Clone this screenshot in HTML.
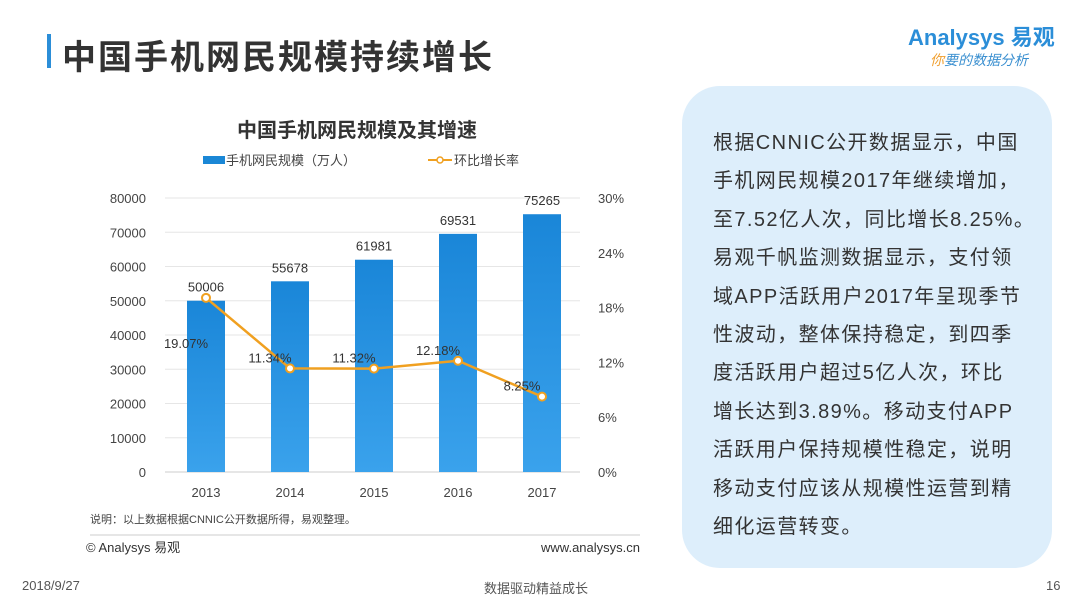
<!DOCTYPE html>
<html><head><meta charset="utf-8"><style>
body{margin:0;width:1080px;height:608px;background:#fff;position:relative;overflow:hidden;font-family:"Liberation Sans","Noto Sans CJK SC",sans-serif;}
.a{position:absolute;white-space:nowrap}
</style></head><body>
<div class="a" style="left:47px;top:34px;width:4px;height:34px;background:#2b8ed8"></div>
<div class="a" style="left:62px;top:30px;font-size:34px;letter-spacing:2px;font-weight:bold;color:#333">中国手机网民规模持续增长</div>
<div class="a" style="left:908px;top:20px;font-size:22px;color:#2b8ed8;font-weight:bold">Analysys 易观</div>
<div class="a" style="left:930px;top:50px;font-size:14px;color:#3a8fd0;font-style:italic"><span style="color:#f0a030">你</span>要的数据分析</div>

<svg class="a" style="left:0;top:0" width="680" height="570">
<text x="357" y="137" text-anchor="middle" font-size="20" font-weight="bold" fill="#333">中国手机网民规模及其增速</text>
<g>
<rect x="203" y="156" width="22" height="8" fill="#1a87d6"/>
<text x="226" y="165" font-size="13" fill="#444">手机网民规模（万人）</text>
<line x1="428" y1="160" x2="452" y2="160" stroke="#f0a020" stroke-width="2"/>
<circle cx="440" cy="160" r="3" fill="#fff" stroke="#f0a020" stroke-width="1.5"/>
<text x="454" y="165" font-size="13" fill="#444">环比增长率</text>
</g>
<defs><linearGradient id="bg" x1="0" y1="0" x2="0" y2="1"><stop offset="0" stop-color="#1a86d8"/><stop offset="1" stop-color="#3aa2ec"/></linearGradient></defs>
<g id="grid"></g><g id="bars"></g><g id="line"></g><g id="labels"></g>
<text x="90" y="523" font-size="11" fill="#444">说明：以上数据根据CNNIC公开数据所得，易观整理。</text>
<line x1="90" y1="535" x2="640" y2="535" stroke="#ddd" stroke-width="1.5"/>
<text x="86" y="552" font-size="13" fill="#333">© Analysys 易观</text>
<text x="640" y="552" font-size="13" fill="#333" text-anchor="end">www.analysys.cn</text>
</svg>

<div class="a" style="left:682px;top:86px;width:370px;height:482px;background:#ddeefb;border-radius:38px"></div>
<div class="a" style="left:713px;top:124px;font-size:20px;letter-spacing:1.4px;line-height:38.4px;color:#333">根据CNNIC公开数据显示，中国<br>手机网民规模2017年继续增加，<br>至7.52亿人次，同比增长8.25%。<br>易观千帆监测数据显示，支付领<br>域APP活跃用户2017年呈现季节<br>性波动，整体保持稳定，到四季<br>度活跃用户超过5亿人次，环比<br>增长达到3.89%。移动支付APP<br>活跃用户保持规模性稳定，说明<br>移动支付应该从规模性运营到精<br>细化运营转变。</div>

<div class="a" style="left:22px;top:578px;font-size:13px;color:#555">2018/9/27</div>
<div class="a" style="left:484px;top:578px;font-size:13px;color:#555">数据驱动精益成长</div>
<div class="a" style="left:1046px;top:578px;font-size:13px;color:#555">16</div>

<script>
const categories=["2013","2014","2015","2016","2017"];
const users=[50006,55678,61981,69531,75265];
const growth=[19.07,11.34,11.32,12.18,8.25];
const leftTicks=[0,10000,20000,30000,40000,50000,60000,70000,80000];
const rightTicks=[0,6,12,18,24,30];
const NS="http://www.w3.org/2000/svg";
const y0=472,y1=198;
const yL=v=>y0-(v/80000)*(y0-y1);
const yR=v=>y0-(v/30)*(y0-y1);
const xC=i=>206+i*84;
function mk(t,a,p){const e=document.createElementNS(NS,t);for(const k in a)e.setAttribute(k,a[k]);document.getElementById(p).appendChild(e);return e;}
leftTicks.forEach(v=>{
 if(v>0){const g=mk('line',{x1:165,x2:580,y1:yL(v),y2:yL(v),stroke:'#e6e6e6'},'grid');
 
 }
 const t=mk('text',{x:146,y:yL(v)+5,'text-anchor':'end','font-size':13,fill:'#444'},'labels');t.textContent=v;
 
 
});
mk('line',{x1:165,x2:580,y1:y0,y2:y0,stroke:'#ccc'},'grid');
rightTicks.forEach(v=>{
 const t=mk('text',{x:598,y:yR(v)+5,'font-size':13,fill:'#444'},'labels');t.textContent=v+'%';
 
 
});
categories.forEach((c,i)=>{
 const b=mk('rect',{x:xC(i)-19,y:yL(users[i]),width:38,height:y0-yL(users[i]),fill:'url(#bg)'},'bars');
 
 
 const t=mk('text',{x:xC(i),y:yL(users[i])-9,'text-anchor':'middle','font-size':13,fill:'#333'},'labels');t.textContent=users[i];
 
 
 const x=mk('text',{x:xC(i),y:497,'text-anchor':'middle','font-size':13,fill:'#444'},'labels');x.textContent=c;
 
 
});
const pl=mk('polyline',{points:growth.map((g,i)=>xC(i)+','+yR(g)).join(' '),fill:'none',stroke:'#f0a020','stroke-width':2.5},'line');


growth.forEach((g,i)=>{
 const p=mk('circle',{cx:xC(i),cy:yR(g),r:4,fill:'#fff',stroke:'#f0a020','stroke-width':2},'line');
 
 
 const t=mk('text',{x:xC(i)-20,y:yR(g)-6,'text-anchor':'middle','font-size':13,fill:'#333'},'labels');t.textContent=g.toFixed(2)+'%';
 if(i==0){t.setAttribute('y',yR(g)+50);}
 
 
});
</script>
</body></html>
